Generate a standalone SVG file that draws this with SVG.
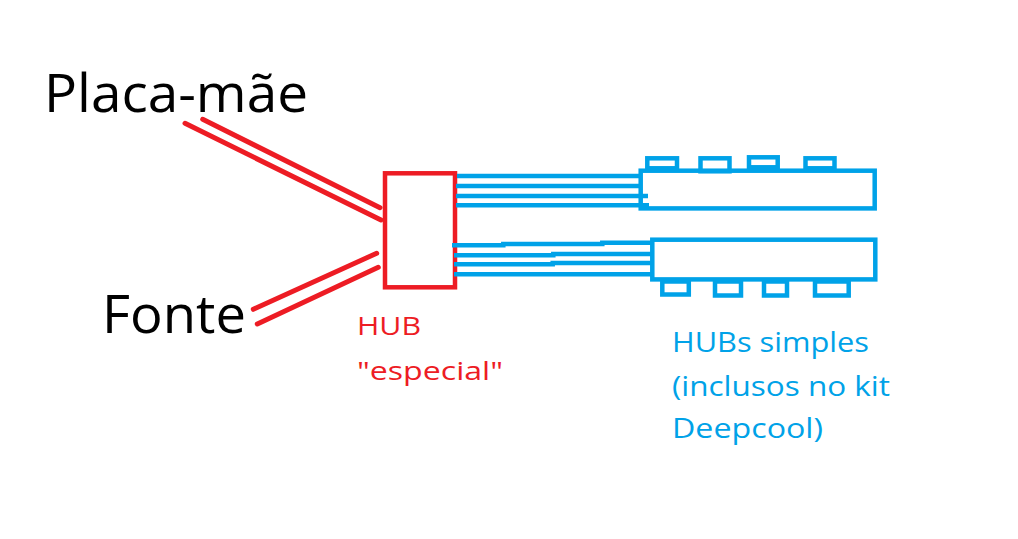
<svg xmlns="http://www.w3.org/2000/svg" width="1018" height="539" viewBox="0 0 1018 539">
<style>
.red{stroke:#ED1C24;fill:none}
.blue{stroke:#00A2E8;fill:none}
.t{font-family:"Open Sans","Noto Sans","Liberation Sans",sans-serif}
</style>
<rect width="1018" height="539" fill="#fff"/>
<g id="placa-mae"><text class="t" x="44" y="111.5" font-size="53" fill="#000" textLength="264" lengthAdjust="spacingAndGlyphs">Placa-mãe</text></g>
<g id="fonte"><text class="t" x="102" y="332.5" font-size="53" fill="#000" textLength="144" lengthAdjust="spacingAndGlyphs">Fonte</text></g>
<g id="hub-especial">
<rect class="red" x="385" y="173.3" width="70" height="114" stroke-width="4.5"/>
<text class="t" x="357" y="335" font-size="25.5" fill="#ED1C24" textLength="64" lengthAdjust="spacingAndGlyphs">HUB</text>
<text class="t" x="357" y="380" font-size="25.5" fill="#ED1C24" textLength="146" lengthAdjust="spacingAndGlyphs">"especial"</text>
</g>
<g id="hub-simples-1" class="blue" stroke-width="4.5">
<rect x="640.7" y="170.7" width="234" height="37.7"/>
<rect x="647.3" y="158.3" width="29.7" height="10"/>
<rect x="700.5" y="158.3" width="29" height="13"/>
<rect x="749" y="157.3" width="28.7" height="10"/>
<rect x="805.5" y="158.3" width="29" height="10"/>
</g>
<g id="hub-simples-2" class="blue" stroke-width="4.5">
<rect x="652.3" y="239.7" width="223" height="39.7"/>
<rect x="662.3" y="281.5" width="26.5" height="13"/>
<rect x="715" y="281.5" width="26" height="14"/>
<rect x="764" y="281.5" width="23" height="14"/>
<rect x="815" y="281.5" width="33.7" height="14"/>
</g>
<g id="hubs-label"><text class="t" font-size="28" fill="#00A2E8">
<tspan x="672" y="351.7" textLength="197" lengthAdjust="spacingAndGlyphs">HUBs simples</tspan>
<tspan x="672" y="396" textLength="218" lengthAdjust="spacingAndGlyphs">(inclusos no kit</tspan>
<tspan x="672" y="438.3" textLength="151" lengthAdjust="spacingAndGlyphs">Deepcool)</tspan>
</text></g>
<g id="connectors" stroke-linecap="round">
<g class="red" stroke-width="5">
<line x1="202.7" y1="119.3" x2="380" y2="207.7"/>
<line x1="185" y1="123.3" x2="381" y2="220"/>
<line x1="253.3" y1="309.3" x2="376.7" y2="253.3"/>
<line x1="257.3" y1="324" x2="378.3" y2="267.3"/>
</g>
<g class="blue" stroke-width="4.5" stroke-linecap="butt">
<line x1="457" y1="176" x2="640" y2="176"/>
<line x1="456" y1="186" x2="640" y2="186"/>
<line x1="456" y1="196" x2="648" y2="196"/>
<line x1="456" y1="205.3" x2="649" y2="205.3"/>
<path d="M452 245.3H503.3V244H602.3V242.7H652"/>
<path d="M454 255.3H553.3V254H652"/>
<path d="M454 264.3H552.7V263H652"/>
<line x1="454" y1="274.3" x2="652" y2="274.3"/>
</g>
</g>
</svg>
